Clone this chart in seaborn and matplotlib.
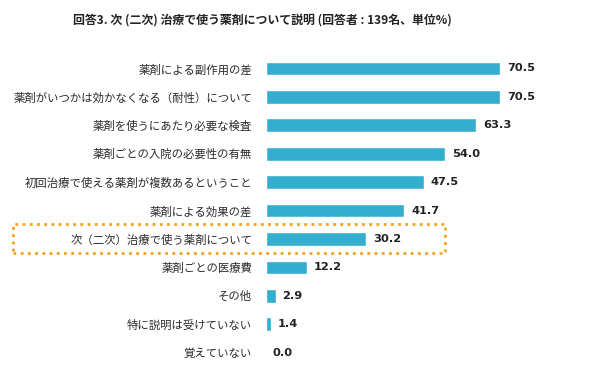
import matplotlib
matplotlib.use("Agg")
import matplotlib.pyplot as plt
import matplotlib.patches as mpatches
import pandas as pd
import seaborn as sns

# Data
items = [
    '薬剤による副作用の差',
    '薬剤がいつかは効かなくなる（耐性）について',
    '薬剤を使うにあたり必要な検査',
    '薬剤ごとの入院の必要性の有無',
    '初回治療で使える薬剤が複数あるということ',
    '薬剤による効果の差',
    '次（二次）治療で使う薬剤について',
    '薬剤ごとの医療費',
    'その他',
    '特に説明は受けていない',
    '覚えていない',
]
percent = [70.5, 70.5, 63.3, 54.0, 47.5, 41.7, 30.2, 12.2, 2.9, 1.4, 0.0]
highlight = '次（二次）治療で使う薬剤について'

TITLE = '回答3. 次 (二次) 治療で使う薬剤について説明 (回答者 : 139名、単位%)'
BAR_COLOR = '#35ADCF'
BOX_COLOR = '#F5A01E'

sns.set_style('white')
plt.rcParams['font.family'] = ['Noto Sans CJK JP', 'DejaVu Sans']

df = pd.DataFrame({'item': items, 'percent': percent})

fig = plt.figure(figsize=(6.0, 3.77), dpi=100)
ax = fig.add_axes([266 / 600, 0.027, 324 / 600, 0.829])

sns.barplot(data=df, x='percent', y='item', color=BAR_COLOR,
            width=0.48, saturation=1, ax=ax)

ax.set_xlim(0, 97.6)
ax.set_xlabel('')
ax.set_ylabel('')
ax.set_xticks([])
sns.despine(ax=ax, left=True, bottom=True)
ax.tick_params(axis='y', length=0, pad=10, labelsize=8.2, labelcolor='#2b2b2b')

# value labels
for i, v in enumerate(percent):
    ax.text(v + 2.1, i, f'{v:.1f}', va='center', ha='left',
            fontsize=8.2, fontweight='bold', color='#222222',
            family='DejaVu Sans')

# dotted highlight box around the "next treatment" row
idx = items.index(highlight)
y_center = fig.transFigure.inverted().transform(
    ax.transData.transform((0, idx)))[1]
box = mpatches.Rectangle((13 / 600, y_center - 14.5 / 377), 432 / 600, 29 / 377,
                         transform=fig.transFigure, fill=False,
                         edgecolor=BOX_COLOR, linestyle=(0, (1, 1.6)),
                         linewidth=2, clip_on=False)
fig.patches.append(box)

fig.text(262 / 600, 0.948, TITLE, ha='center', va='center', fontsize=8.6,
         fontweight='bold', color='#222222')

fig.savefig('out.png', dpi=100)
